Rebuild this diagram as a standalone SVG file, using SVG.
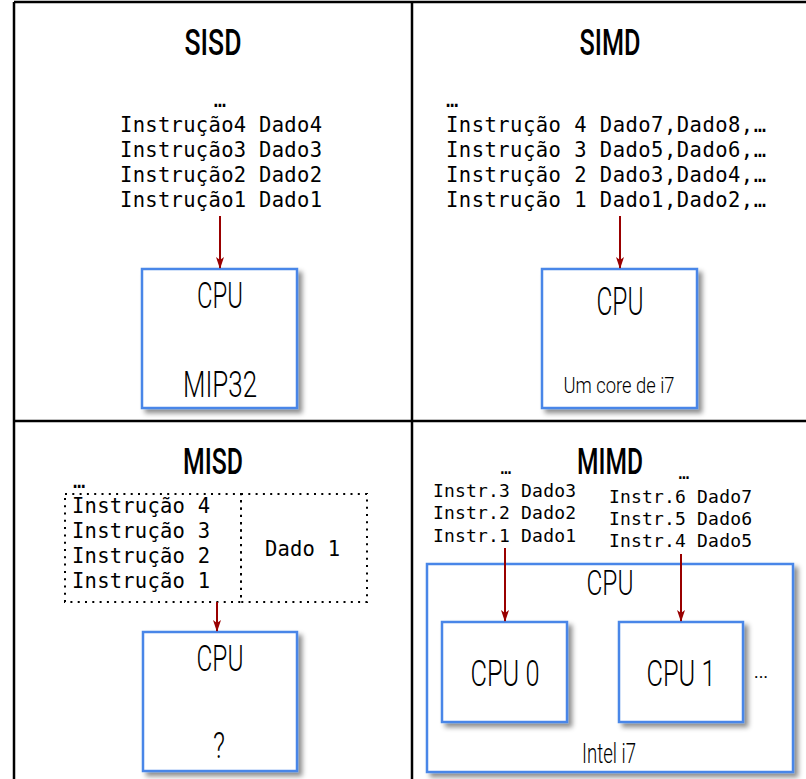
<svg xmlns="http://www.w3.org/2000/svg" width="806" height="779" viewBox="0 0 806 779">
<style>
.grid{stroke:#000;stroke-width:2.5;fill:none}
.title{font-family:Roboto,"Liberation Sans",sans-serif;font-weight:500;font-size:36px;fill:#000;text-anchor:middle}
.mono{font-family:"DejaVu Sans Mono","Liberation Mono",monospace;font-size:20.5px;fill:#000}
.mono18{font-family:"DejaVu Sans Mono","Liberation Mono",monospace;font-size:18px;fill:#000}
.lbl{font-family:Roboto,"Liberation Sans",sans-serif;font-weight:300;fill:#000;text-anchor:middle}
.box{fill:#fff;stroke:#4a86e8;stroke-width:2.5;filter:url(#sh)}
.dot{fill:none;stroke:#000;stroke-width:2;stroke-dasharray:2 5.3}
.arr{stroke:#990000;stroke-width:2;fill:none;marker-end:url(#ah)}
</style>
<defs>
<filter id="sh" x="-10%" y="-10%" width="130%" height="130%">
<feDropShadow dx="4" dy="4" stdDeviation="2.5" flood-color="#000" flood-opacity="0.45"/>
</filter>
<marker id="ah" viewBox="0 0 12 8" refX="11" refY="4" markerWidth="12" markerHeight="8" markerUnits="userSpaceOnUse" orient="auto">
<path d="M0,0 L12,4 L0,8 L3,4 z" fill="#990000"/>
</marker>
</defs>
<rect width="806" height="779" fill="#fff"/>
<g id="grid">
<line class="grid" x1="14" y1="2" x2="806" y2="2"/>
<line class="grid" x1="14" y1="2" x2="14" y2="779"/>
<line class="grid" x1="412" y1="2" x2="412" y2="779"/>
<line class="grid" x1="14" y1="421" x2="806" y2="421"/>
</g>
<g id="sisd">
<text class="title" x="213" y="55" textLength="57" lengthAdjust="spacingAndGlyphs">SISD</text>
<text class="mono" x="220" y="107" text-anchor="middle">…</text>
<text class="mono" x="120" y="132" textLength="202">Instrução4 Dado4</text>
<text class="mono" x="120" y="157" textLength="202">Instrução3 Dado3</text>
<text class="mono" x="120" y="182" textLength="202">Instrução2 Dado2</text>
<text class="mono" x="120" y="207" textLength="202">Instrução1 Dado1</text>
</g>
<g id="sisd-cpu">
<rect class="box" x="142" y="269" width="155" height="139"/>
<text class="lbl" x="220" y="308" font-size="36" textLength="46" lengthAdjust="spacingAndGlyphs">CPU</text>
<text class="lbl" x="220" y="397" font-size="36" textLength="74" lengthAdjust="spacingAndGlyphs">MIP32</text>
</g>
<g id="simd">
<text class="title" x="610" y="55" textLength="61" lengthAdjust="spacingAndGlyphs">SIMD</text>
<text class="mono" x="446" y="107">…</text>
<text class="mono" x="446" y="132" textLength="320">Instrução 4 Dado7,Dado8,…</text>
<text class="mono" x="446" y="157" textLength="320">Instrução 3 Dado5,Dado6,…</text>
<text class="mono" x="446" y="182" textLength="320">Instrução 2 Dado3,Dado4,…</text>
<text class="mono" x="446" y="207" textLength="320">Instrução 1 Dado1,Dado2,…</text>
</g>
<g id="simd-cpu">
<rect class="box" x="542" y="269" width="155" height="139"/>
<text class="lbl" x="620" y="315" font-size="38" textLength="47" lengthAdjust="spacingAndGlyphs">CPU</text>
<text class="lbl" x="619" y="393" font-size="22" textLength="111" lengthAdjust="spacingAndGlyphs">Um core de i7</text>
</g>
<g id="misd">
<text class="title" x="213" y="474" textLength="60" lengthAdjust="spacingAndGlyphs">MISD</text>
<text class="mono" x="73" y="488">…</text>
<rect class="dot" x="65" y="494" width="176" height="108"/>
<rect class="dot" x="241" y="494" width="126" height="108"/>
<text class="mono" x="72" y="513" textLength="138">Instrução 4</text>
<text class="mono" x="72" y="538" textLength="138">Instrução 3</text>
<text class="mono" x="72" y="563" textLength="138">Instrução 2</text>
<text class="mono" x="72" y="588" textLength="138">Instrução 1</text>
<text class="mono" x="265" y="556" textLength="75">Dado 1</text>
</g>
<g id="misd-cpu">
<rect class="box" x="143" y="632" width="154" height="139"/>
<text class="lbl" x="220" y="671" font-size="36" textLength="47" lengthAdjust="spacingAndGlyphs">CPU</text>
<text class="lbl" x="219" y="758" font-size="36" textLength="12" lengthAdjust="spacingAndGlyphs">?</text>
</g>
<g id="mimd">
<text class="title" x="610" y="474" textLength="66" lengthAdjust="spacingAndGlyphs">MIMD</text>
<text class="mono18" x="506" y="474" text-anchor="middle">…</text>
<text class="mono18" x="433" y="497" textLength="143">Instr.3 Dado3</text>
<text class="mono18" x="433" y="519" textLength="143">Instr.2 Dado2</text>
<text class="mono18" x="433" y="542" textLength="143">Instr.1 Dado1</text>
<text class="mono18" x="684" y="479" text-anchor="middle">…</text>
<text class="mono18" x="609" y="503" textLength="143">Instr.6 Dado7</text>
<text class="mono18" x="609" y="525" textLength="143">Instr.5 Dado6</text>
<text class="mono18" x="609" y="547" textLength="143">Instr.4 Dado5</text>
</g>
<g id="mimd-cpu">
<rect class="box" x="427" y="564" width="366" height="208"/>
<text class="lbl" x="610" y="595" font-size="35" textLength="47" lengthAdjust="spacingAndGlyphs">CPU</text>
<text class="lbl" x="609" y="763" font-size="27" textLength="54" lengthAdjust="spacingAndGlyphs">Intel i7</text>
<text class="lbl" x="761" y="678" font-size="24">…</text>
</g>
<g id="cpu0">
<rect class="box" x="442" y="622" width="125" height="100"/>
<text class="lbl" x="505" y="686" font-size="37" textLength="69" lengthAdjust="spacingAndGlyphs">CPU 0</text>
</g>
<g id="cpu1">
<rect class="box" x="619" y="622" width="124" height="100"/>
<text class="lbl" x="681" y="686" font-size="37" textLength="69" lengthAdjust="spacingAndGlyphs">CPU 1</text>
</g>
<g id="connectors">
<line class="arr" x1="220" y1="216" x2="220" y2="268"/>
<line class="arr" x1="620" y1="216" x2="620" y2="268"/>
<line class="arr" x1="217" y1="602" x2="217" y2="631"/>
<line class="arr" x1="505" y1="548" x2="505" y2="621"/>
<line class="arr" x1="681" y1="554" x2="681" y2="621"/>
</g>
</svg>
